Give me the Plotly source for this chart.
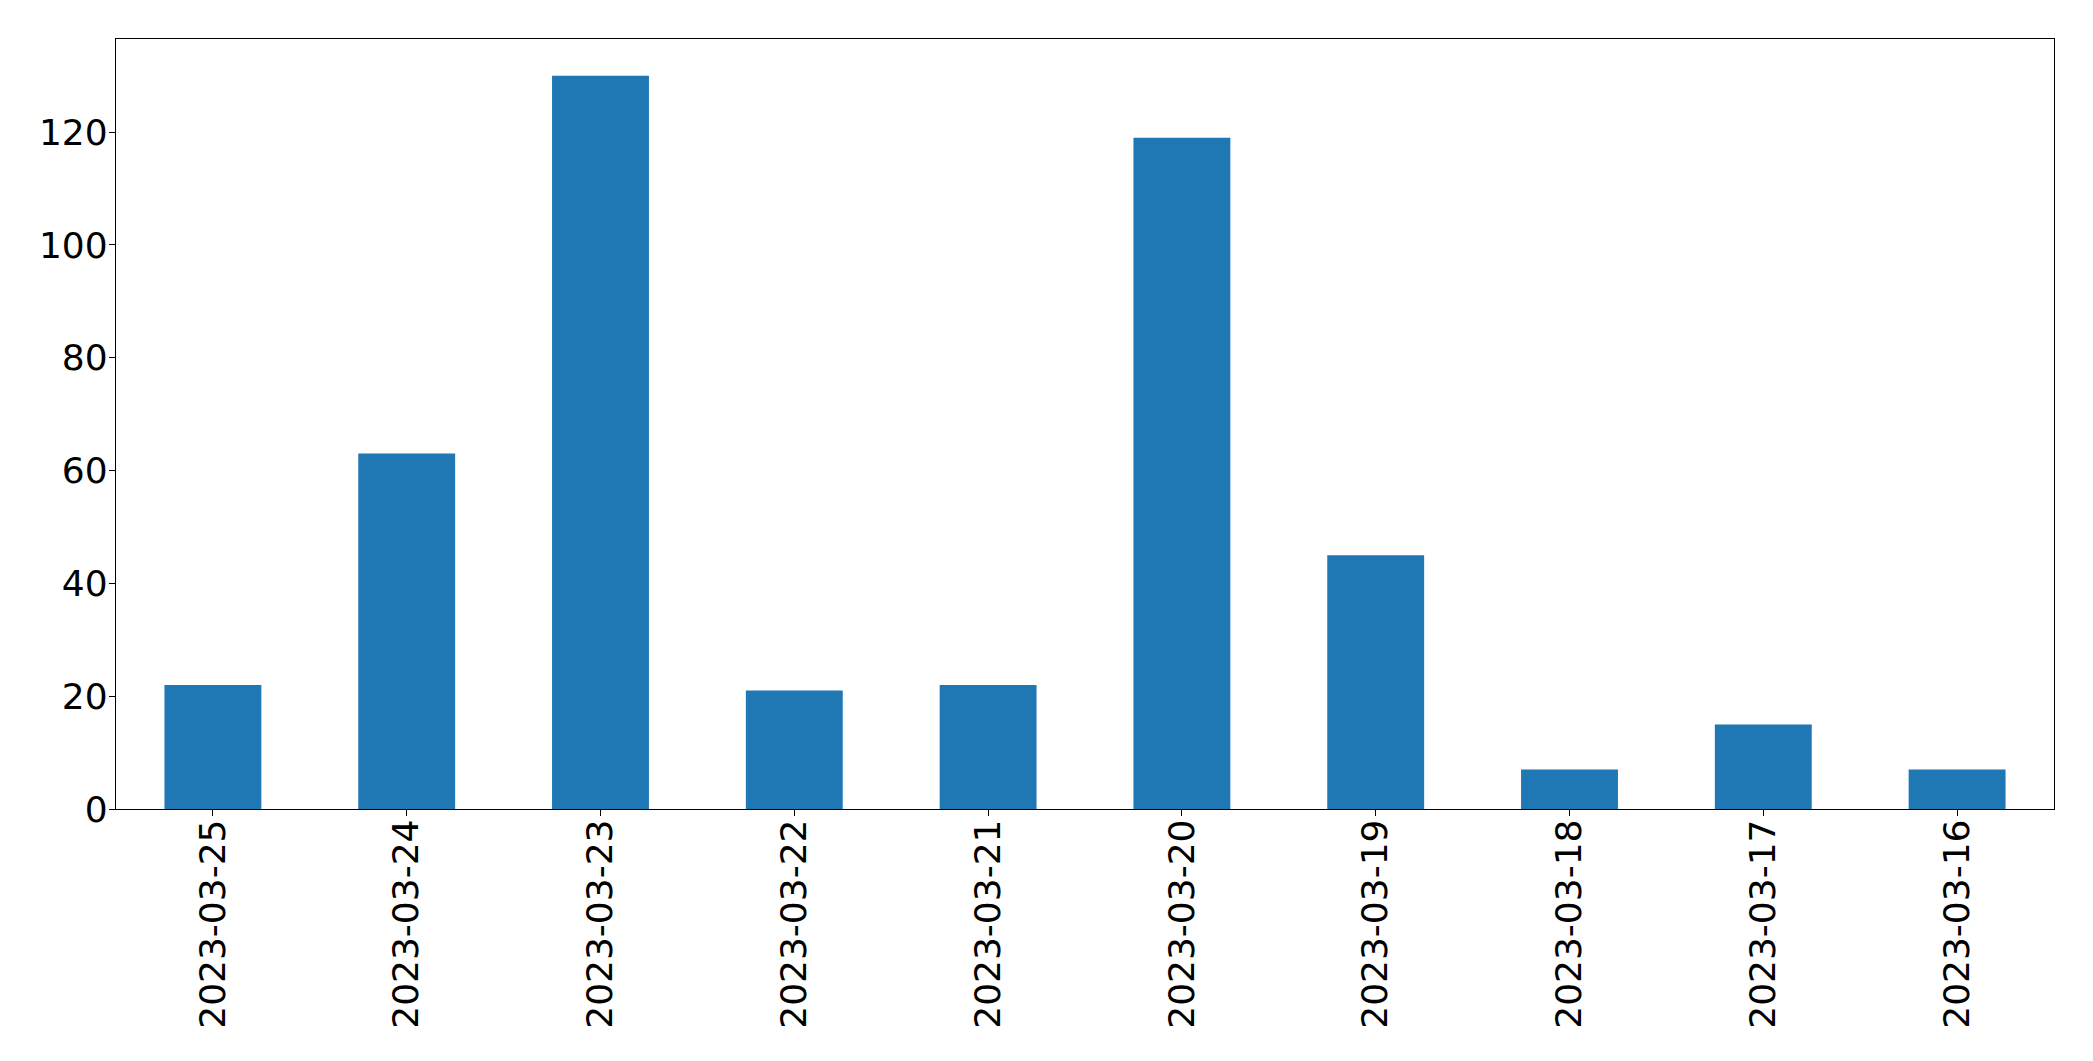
import plotly.graph_objects as go

dates = ["2023-03-25", "2023-03-24", "2023-03-23", "2023-03-22", "2023-03-21",
         "2023-03-20", "2023-03-19", "2023-03-18", "2023-03-17", "2023-03-16"]
counts = [22, 63, 130, 21, 22, 119, 45, 7, 15, 7]
y_ticks = [0, 20, 40, 60, 80, 100, 120]

fig = go.Figure(go.Bar(x=list(range(len(dates))), y=counts, width=0.5,
                       marker=dict(color="#1f77b4", line=dict(width=0))))

fig.update_layout(
    width=2093, height=1061,
    margin=dict(l=108, r=47, t=31, b=260),
    plot_bgcolor="white", paper_bgcolor="white",
    font=dict(family="DejaVu Sans", size=36, color="black"),
    showlegend=False,
)
fig.update_xaxes(
    range=[-0.5, len(dates) - 0.5],
    tickmode="array", tickvals=list(range(len(dates))), ticktext=dates,
    tickangle=-90, ticks="outside", ticklen=6, tickwidth=1.3, tickcolor="black",
    ticklabelstandoff=-11,
    showline=True, linecolor="black", linewidth=1.3, mirror=True,
    showgrid=False, zeroline=False,
)
fig.update_yaxes(
    range=[0, max(counts) * 1.05],
    tickmode="array", tickvals=y_ticks,
    ticks="outside", ticklen=6, tickwidth=1.3, tickcolor="black",
    ticklabelstandoff=-6,
    showline=True, linecolor="black", linewidth=1.3, mirror=True,
    showgrid=False, zeroline=False,
)

fig.write_html("out.html")
